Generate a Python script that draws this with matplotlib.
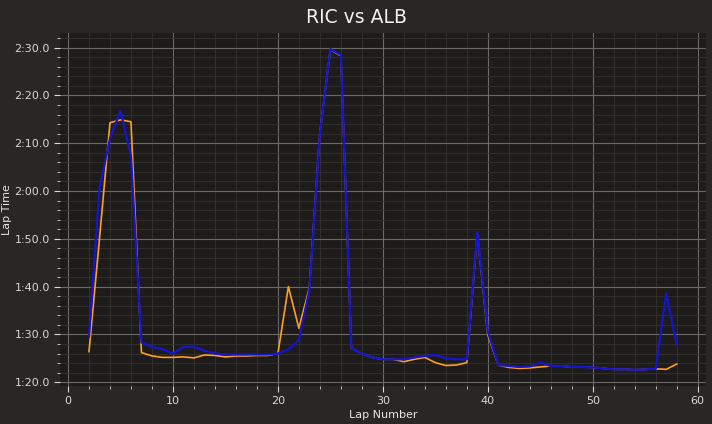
import matplotlib
matplotlib.use("Agg")
import matplotlib.pyplot as plt
import matplotlib.ticker as ticker
from matplotlib import font_manager

# lap times in seconds
laps = list(range(2, 59))

ric_times = [
    86.4, 110.0, 134.3, 134.9, 134.5, 86.2, 85.5, 85.2, 85.2, 85.3,
    85.1, 85.7, 85.6, 85.3, 85.5, 85.5, 85.6, 85.6, 86.0, 100.0,
    91.3, 99.8, 132.2, 149.6, 148.3, 87.1, 86.0, 85.2, 84.8, 84.8,
    84.3, 84.8, 85.2, 84.1, 83.5, 83.6, 84.1, 111.2, 89.9, 83.6,
    83.1, 82.9, 83.0, 83.2, 83.4, 83.4, 83.2, 83.2, 83.1, 82.9,
    82.7, 82.7, 82.6, 82.7, 82.8, 82.7, 83.8,
]

alb_times = [
    89.5, 120.5, 131.0, 136.8, 127.3, 88.3, 87.4, 86.9, 86.0, 87.4,
    87.4, 86.6, 86.0, 85.8, 85.8, 85.8, 85.8, 85.8, 86.0, 86.9,
    88.8, 99.3, 132.0, 149.7, 148.5, 87.1, 86.0, 85.2, 84.8, 84.8,
    84.8, 85.2, 85.5, 85.7, 85.0, 84.8, 84.8, 111.4, 90.6, 83.6,
    83.4, 83.2, 83.3, 84.1, 83.4, 83.4, 83.2, 83.2, 83.1, 82.9,
    82.7, 82.7, 82.6, 82.7, 82.8, 98.6, 87.8,
]

names = [f.name for f in font_manager.fontManager.ttflist]
family = ["Liberation Sans Narrow", "DejaVu Sans"] if "Liberation Sans Narrow" in names else ["DejaVu Sans"]
plt.rcParams["font.family"] = family

FIG_BG = "#292625"
AX_BG = "#1e1c1b"
TXT = "#e6e6e6"


def fmt_laptime(v, _):
    m = int(v // 60)
    s = v - m * 60
    return f"{m}:{s:04.1f}"


fig = plt.figure(figsize=(7.12, 4.24), dpi=100)
fig.patch.set_facecolor(FIG_BG)
ax = fig.add_axes([0.0837, 0.090, 0.908, 0.832])
ax.set_facecolor(AX_BG)

ax.plot(laps, ric_times, color="#ffa01e", lw=1.2, zorder=3)
ax.plot(laps, alb_times, color="#1414d2", lw=1.6, zorder=4)

ax.xaxis.set_major_locator(ticker.MultipleLocator(10))
ax.xaxis.set_minor_locator(ticker.MultipleLocator(2))
ax.yaxis.set_major_locator(ticker.MultipleLocator(10))
ax.yaxis.set_minor_locator(ticker.MultipleLocator(2))
ax.yaxis.set_major_formatter(ticker.FuncFormatter(fmt_laptime))

ax.grid(which="major", color="#6b6866", lw=0.8, zorder=0)
ax.grid(which="minor", color="#353230", lw=0.6, zorder=0)
ax.set_axisbelow(True)

ax.tick_params(which="both", colors="#d8d8d8", labelsize=8)
ax.tick_params(which="major", length=4, pad=3)
ax.tick_params(which="minor", length=2)
for spine in ax.spines.values():
    spine.set_visible(False)

ax.set_xlabel("Lap Number", color=TXT, fontsize=8, labelpad=3)
ax.set_ylabel("Lap Time", color=TXT, fontsize=8, labelpad=2)
fig.suptitle("RIC vs ALB", color="#f2f2f2", fontsize=13.5, y=0.982)

fig.savefig("out.png", dpi=100, facecolor=fig.get_facecolor())
